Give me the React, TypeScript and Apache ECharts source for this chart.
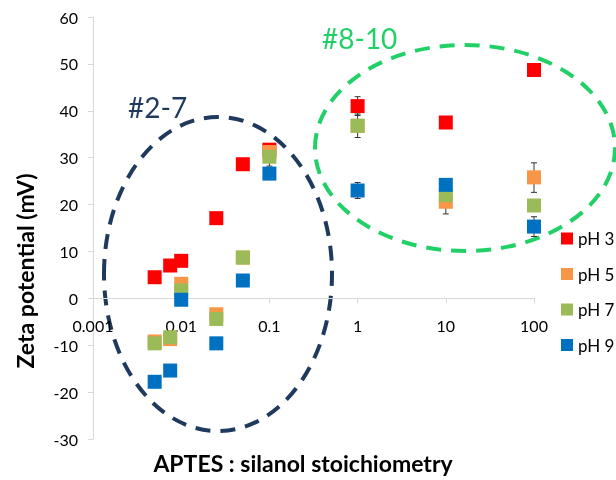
import React, { useEffect, useRef } from "react";
import * as echarts from "echarts";

const xValues = [0.005, 0.0075, 0.01, 0.025, 0.05, 0.1, 1, 10, 100];
const ph3 = [4.5, 7.0, 8.0, 17.1, 28.6, 31.7, 41.0, 37.5, 48.7];
const ph5 = [-9.2, -8.7, 3.1, -3.4, 8.7, 31.2, 36.8, 20.6, 25.8];
const ph7 = [-9.6, -8.3, 1.7, -4.4, 8.7, 30.2, 36.8, 22.0, 19.8];
const ph9 = [-17.8, -15.4, -0.3, -9.6, 3.8, 26.6, 23.0, 24.2, 15.3];
const seriesNames = ["pH 3", "pH 5", "pH 7", "pH 9"];
const seriesColors = ["#FF0000", "#F79646", "#9BBB59", "#0070C0"];
// error bars: [x, low, high]
const errorBars = [
  [1, 39.0, 43.0],
  [1, 34.3, 39.3],
  [1, 21.3, 24.7],
  [10, 18.0, 23.2],
  [100, 22.6, 28.9],
  [100, 13.2, 17.4],
  [0.1, 28.2, 32.2],
];
const yTicks = { min: -30, max: 60, interval: 10 };
const xTicks = { min: 0.001, max: 100 };

export default function App() {
  const ref = useRef<HTMLDivElement>(null);
  useEffect(() => {
    if (!ref.current) return;
    const chart = echarts.init(ref.current, null, { renderer: "svg" });
    const all = [ph3, ph5, ph7, ph9];
    const font = "Lato";
    const gridTop = 17;
    const gridH = 422;
    const zeroOffset = -(gridH * (0 - yTicks.min)) / (yTicks.max - yTicks.min);
    chart.setOption({
      animation: false,
      textStyle: { fontFamily: font },
      grid: { left: 93, top: gridTop, width: 441, height: gridH },
      xAxis: {
        type: "log",
        logBase: 10,
        min: xTicks.min,
        max: xTicks.max,
        position: "bottom",
        offset: zeroOffset,
        axisLine: { onZero: false, lineStyle: { color: "#D9D9D9", width: 1 } },
        axisTick: { show: true, length: 5, lineStyle: { color: "#D9D9D9" } },
        minorTick: { show: false },
        splitLine: { show: false },
        axisLabel: {
          fontFamily: font,
          fontSize: 16,
          color: "#000",
          margin: 19,
          formatter: (v: number) => String(Number(v.toPrecision(3))),
        },
      },
      yAxis: {
        type: "value",
        min: yTicks.min,
        max: yTicks.max,
        interval: yTicks.interval,
        axisLine: { show: true, onZero: false, lineStyle: { color: "#D9D9D9", width: 1 } },
        axisTick: { show: true, length: 5, lineStyle: { color: "#D9D9D9" } },
        splitLine: { show: false },
        axisLabel: { fontFamily: font, fontSize: 16, color: "#000", margin: 15 },
      },
      legend: {
        data: seriesNames,
        orient: "vertical",
        left: 556,
        top: 225,
        itemWidth: 12,
        itemHeight: 12,
        itemGap: 18.5,
        icon: "rect",
        textStyle: { fontFamily: font, fontSize: 17, color: "#000" },
      },
      graphic: [
        {
          type: "ellipse",
          shape: { cx: 218, cy: 274, rx: 114, ry: 157 },
          style: { fill: "none", stroke: "#1F3A5C", lineWidth: 4, lineDash: [15, 10] },
          z: 0,
        },
        {
          type: "ellipse",
          shape: { cx: 465, cy: 148, rx: 150, ry: 103 },
          style: { fill: "none", stroke: "#21D066", lineWidth: 4, lineDash: [15, 10] },
          z: 0,
        },
        {
          type: "text",
          x: 128,
          y: 107,
          style: { text: "#2-7", fill: "#1F3A5C", font: `28px ${font}`, textVerticalAlign: "middle" },
        },
        {
          type: "text",
          x: 322,
          y: 38,
          style: { text: "#8-10", fill: "#21D066", font: `28px ${font}`, textVerticalAlign: "middle" },
        },
        {
          type: "text",
          x: 303,
          y: 463,
          style: {
            text: "APTES : silanol stoichiometry",
            fill: "#000",
            font: `bold 23px ${font}`,
            textAlign: "center",
            textVerticalAlign: "middle",
          },
        },
        {
          type: "text",
          x: 25,
          y: 271,
          rotation: Math.PI / 2,
          style: {
            text: "Zeta potential (mV)",
            fill: "#000",
            font: `bold 23px ${font}`,
            textAlign: "center",
            textVerticalAlign: "middle",
          },
        },
      ],
      series: [
        {
          type: "custom",
          name: "err",
          z: 1,
          data: errorBars,
          encode: { x: 0, y: [1, 2] },
          renderItem: (params: any, api: any) => {
            const x = api.value(0);
            const p1 = api.coord([x, api.value(1)]);
            const p2 = api.coord([x, api.value(2)]);
            const w = 3;
            const st = { stroke: "#333", lineWidth: 1 };
            return {
              type: "group",
              children: [
                { type: "line", shape: { x1: p1[0], y1: p1[1], x2: p2[0], y2: p2[1] }, style: st },
                { type: "line", shape: { x1: p1[0] - w, y1: p1[1], x2: p1[0] + w, y2: p1[1] }, style: st },
                { type: "line", shape: { x1: p2[0] - w, y1: p2[1], x2: p2[0] + w, y2: p2[1] }, style: st },
              ],
            };
          },
        },
        ...seriesNames.map((n, i) => ({
          type: "scatter",
          name: n,
          symbol: "rect",
          symbolSize: 14,
          z: 2,
          itemStyle: { color: seriesColors[i], opacity: 1 },
          data: xValues.map((x, j) => [x, all[i][j]]),
        })),
      ],
    });
    return () => chart.dispose();
  }, []);
  return <div ref={ref} style={{ position: "fixed", left: 0, top: 0, width: 616, height: 480 }} />;
}
